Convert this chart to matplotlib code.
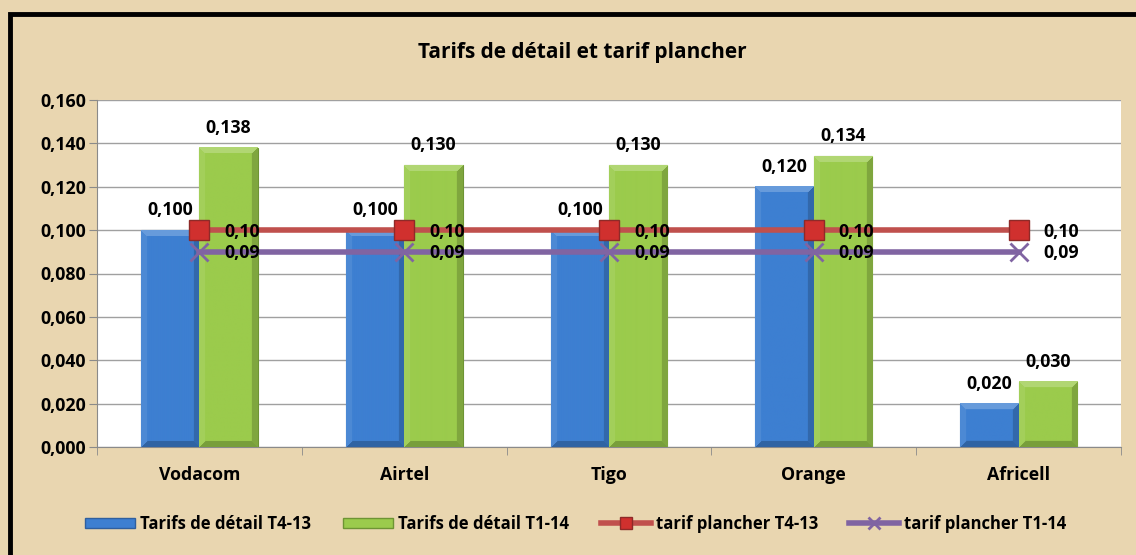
import matplotlib.pyplot as plt
import numpy as np
from matplotlib.colors import to_rgb
from matplotlib.lines import Line2D
from matplotlib.patches import Rectangle

# données
operateurs = ["Vodacom", "Airtel", "Tigo", "Orange", "Africell"]
detail_t4_13 = [0.100, 0.100, 0.100, 0.120, 0.020]
detail_t1_14 = [0.138, 0.130, 0.130, 0.134, 0.030]
plancher_t4_13 = [0.10, 0.10, 0.10, 0.10, 0.10]
plancher_t1_14 = [0.09, 0.09, 0.09, 0.09, 0.09]

plt.rcParams["font.family"] = ["Open Sans", "DejaVu Sans"]
plt.rcParams["font.weight"] = "bold"

c_bleu = "#3D7FD1"
c_vert = "#9BCB4C"
c_rouge = "#C0504D"
c_violet = "#8064A2"
fond = "#E9D6B0"
fs = 12.8


def virgule(v, n):
    return f"{v:.{n}f}".replace(".", ",")


def biseau(ax, rect, couleur, b=6):
    # effet "biseau" style Excel, dessiné par-dessus la barre
    x0, w, h = rect.get_x(), rect.get_width(), rect.get_height()
    p0 = ax.transData.transform((x0, 0))
    p1 = ax.transData.transform((x0 + w, h))
    nc = max(int(round(p1[0] - p0[0])), 2)
    nr = max(int(round(p1[1] - p0[1])), 2)
    jj, ii = np.meshgrid(np.arange(nc) + 0.5, np.arange(nr) + 0.5)
    d = np.stack([ii, jj, nc - jj, nr - ii])  # haut, gauche, droite, bas
    cote = d.argmin(axis=0)
    dmin = d.min(axis=0)
    base = np.array(to_rgb(couleur))
    img = np.tile(base, (nr, nc, 1))
    facteurs = [0.22, 0.08, -0.18, -0.22]
    for k, f in enumerate(facteurs):
        m = (cote == k) & (dmin < b)
        if f > 0:
            img[m] = base + (1 - base) * f
        else:
            img[m] = base * (1 + f)
    ax.imshow(img, extent=(x0, x0 + w, 0, h), aspect="auto",
              interpolation="bilinear", zorder=3.1)


fig = plt.figure(figsize=(11.36, 5.55), dpi=100)
fig.patch.set_facecolor(fond)
# cadre noir
fig.patches.append(Rectangle((10 / 1136, -0.02), 1.05, 1 - 14 / 555 + 0.02,
                             transform=fig.transFigure, fill=False,
                             edgecolor="black", linewidth=3.5))

ax = fig.add_axes([97 / 1136, 108 / 555, 1024 / 1136, 347 / 555])
ax.set_facecolor("white")

x = np.arange(len(operateurs))
w = 0.285
b1 = ax.bar(x - w / 2, detail_t4_13, w, color=c_bleu, edgecolor="#2F5F9E",
            linewidth=0.8, zorder=3)
b2 = ax.bar(x + w / 2, detail_t1_14, w, color=c_vert, edgecolor="#6E9434",
            linewidth=0.8, zorder=3)

ax.set_xlim(-0.5, len(operateurs) - 0.5)
ax.set_ylim(0, 0.16)

for r in b1:
    biseau(ax, r, c_bleu)
for r in b2:
    biseau(ax, r, c_vert)

ax.plot(x, plancher_t1_14, color=c_violet, lw=4, marker="x", ms=13, mew=2,
        zorder=4)
ax.plot(x, plancher_t4_13, color=c_rouge, lw=4, marker="s", ms=15,
        mfc="#D0302E", mec="#8E2A28", mew=1, zorder=5)

for rects, vals in ((b1, detail_t4_13), (b2, detail_t1_14)):
    for r, v in zip(rects, vals):
        ax.annotate(virgule(v, 3), (r.get_x() + r.get_width() / 2, v),
                    xytext=(0, 8), textcoords="offset points",
                    ha="center", va="bottom", fontsize=fs, fontweight="bold",
                    zorder=6)

for xi, v in zip(x, plancher_t4_13):
    ax.annotate(virgule(v, 2), (xi, v), xytext=(18, -1.5),
                textcoords="offset points", ha="left", va="center",
                fontsize=fs, fontweight="bold", zorder=6)
for xi, v in zip(x, plancher_t1_14):
    ax.annotate(virgule(v, 2), (xi, v), xytext=(18, -0.5),
                textcoords="offset points", ha="left", va="center",
                fontsize=fs, fontweight="bold", zorder=6)

ax.set_xlim(-0.5, len(operateurs) - 0.5)
ax.set_ylim(0, 0.16)
ax.set_yticks(np.arange(0, 0.161, 0.02))
ax.set_yticklabels([virgule(v, 3) for v in np.arange(0, 0.161, 0.02)])
ax.yaxis.grid(True, color="#A0A0A0", lw=1, zorder=0)
ax.set_axisbelow(True)

ax.set_xticks(x)
ax.set_xticklabels(operateurs)
ax.set_xticks(np.arange(-0.5, len(operateurs)), minor=True)
ax.tick_params(axis="x", which="major", length=0, pad=14, labelsize=fs)
ax.tick_params(axis="x", which="minor", length=6, color="#8A8A8A")
ax.tick_params(axis="y", length=6, color="#8A8A8A", pad=2, labelsize=fs)

for s in ("top", "right"):
    ax.spines[s].set_visible(False)
ax.spines["left"].set_color("#8A8A8A")
ax.spines["bottom"].set_color("#8A8A8A")

fig.text(0.513, 0.906, "Tarifs de détail et tarif plancher", ha="center",
         va="center", fontsize=15, fontweight="bold")

handles = [
    Rectangle((0, 0), 1, 1, facecolor=c_bleu, edgecolor="#2F5F9E"),
    Rectangle((0, 0), 1, 1, facecolor=c_vert, edgecolor="#6E9434"),
    Line2D([], [], color=c_rouge, lw=4, marker="s", ms=9, mfc="#D0302E",
           mec="#8E2A28"),
    Line2D([], [], color=c_violet, lw=4, marker="x", ms=8, mew=2),
]
labels = ["Tarifs de détail T4-13", "Tarifs de détail T1-14",
          "tarif plancher T4-13", "tarif plancher T1-14"]
fig.legend(handles, labels, loc="center", bbox_to_anchor=(0.507, 0.056),
           ncol=4, frameon=False, fontsize=12, handlelength=3.0,
           handleheight=0.6, handletextpad=0.3, columnspacing=1.9)

fig.savefig("out.png", dpi=100, facecolor=fond)
